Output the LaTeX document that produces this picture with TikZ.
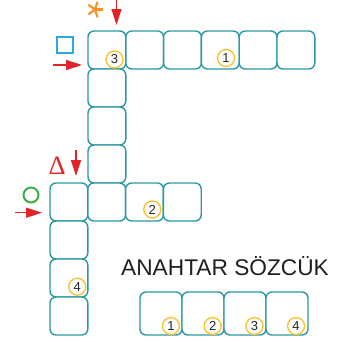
\documentclass[tikz,border=0pt]{standalone}
\usepackage{fontspec}
\setmainfont{Liberation Sans}
\newfontfamily\serifdelta{Liberation Serif}
\usetikzlibrary{arrows.meta}
\definecolor{cellteal}{RGB}{44,152,164}
\definecolor{numyellow}{RGB}{250,192,45}
\definecolor{arrred}{RGB}{226,35,40}
\definecolor{starorange}{RGB}{247,148,29}
\definecolor{sqblue}{RGB}{41,171,226}
\definecolor{circgreen}{RGB}{61,174,73}
\tikzset{
  cell/.style={draw=cellteal, line width=1.4pt, rounded corners=6pt, fill=white},
  numc/.style={circle, draw=numyellow, line width=1.3pt, fill=white, minimum size=17pt, inner sep=0pt, font=\fontsize{13}{13}\selectfont, text=black!85},
  redarrow/.style={draw=arrred, line width=1.3pt, -{Triangle[length=16pt,width=10pt]}, arrred}
}
\begin{document}
\begin{tikzpicture}[x=1pt,y=-1pt]
\useasboundingbox (0,0) rectangle (351,341);
\def\cw{37.8}
\def\ch{38}
% top row
\foreach \i in {0,...,5} {
  \draw[cell] (88+\i*\cw,31) rectangle ++(\cw,\ch);
}
% vertical column below first cell
\foreach \j in {1,2,3} {
  \draw[cell] (88,31+\j*\ch) rectangle ++(\cw,\ch);
}
% row at y=183
\foreach \i in {0,...,3} {
  \draw[cell] (50+\i*\cw,183) rectangle ++(\cw,\ch);
}
% left column
\foreach \j in {1,2,3} {
  \draw[cell] (50,183+\j*\ch) rectangle ++(\cw,\ch);
}
% number circles in grid
\node[numc] (n3) at (114.5,59.5) {3};
\node[numc] (n1) at (226,58) {1};
\node[numc] (n2) at (152.3,209.5) {2};
\node[numc] (n4) at (77.3,286.7) {4};
% keyword
\node[anchor=base west, inner sep=0pt, font=\fontsize{22.7}{24}\selectfont, text=black!88] (kw) at (121,275) {ANAHTAR SÖZCÜK};
\foreach \i in {0,...,3} {
  \draw[cell] (140+\i*42,292) rectangle ++(42,43);
}
\foreach \i/\n in {0/1,1/2,2/3,3/4} {
  \node[numc] (k\n) at (171+\i*41.7,326) {\n};
}
% symbols
\coordinate (a1s) at (116.5,0);
\coordinate (a1e) at (116.5,25);
\draw[redarrow] (a1s) -- (a1e);
\coordinate (a2s) at (53,65);
\coordinate (a2e) at (82,65);
\draw[redarrow] (a2s) -- (a2e);
\coordinate (a3s) at (76,150);
\coordinate (a3e) at (76,176);
\draw[redarrow] (a3s) -- (a3e);
\coordinate (a4s) at (15,212.7);
\coordinate (a4e) at (42,212.7);
\draw[redarrow] (a4s) -- (a4e);
% asterisk
\coordinate (ast) at (95,9.5);
\foreach \a in {0,-72,-144,-216,-288} {
  \draw[starorange, line width=2.2pt, line cap=round] (ast) -- ++(\a:7.5);
}
% blue square
\draw[sqblue, line width=2pt] (57,37) rectangle (72.5,52.5);
% delta
\node[text=arrred, font=\serifdelta\fontsize{26.5}{26}\selectfont, inner sep=0pt, anchor=base] (delta) at (57.2,174.3) {Δ};
% green circle
\draw[circgreen, line width=2pt] (31,195) circle (7.5);
\end{tikzpicture}
\end{document}
